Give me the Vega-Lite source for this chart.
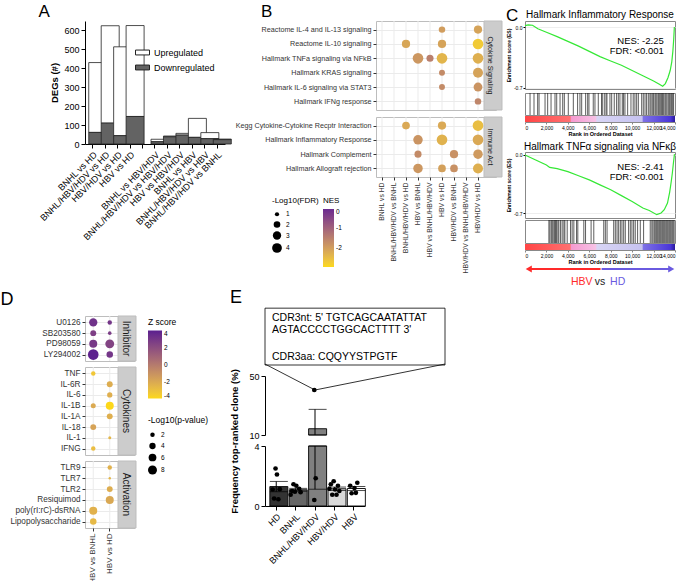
{
  "$schema": "https://vega.github.io/schema/vega-lite/v6.json",
  "background": "white",
  "padding": {"left": 0, "top": 2, "right": 0, "bottom": 0},
  "config": {
    "font": "Liberation Sans",
    "view": {"stroke": null},
    "axis": {"labelColor": "#000", "titleColor": "#000", "domainColor": "#000", "tickColor": "#000", "grid": false},
    "title": {"fontWeight": "normal", "color": "#000"},
    "legend": {"labelColor": "#000", "titleColor": "#000"}
  },
  "datasets": {
    "degs": [
      {"comparison": "BNHL vs HD", "Upregulated": 368, "Downregulated": 61},
      {"comparison": "BNHL/HBV/HDV vs HD", "Upregulated": 513, "Downregulated": 110},
      {"comparison": "HBV/HDV vs HD", "Upregulated": 468, "Downregulated": 44},
      {"comparison": "HBV vs HD", "Upregulated": 479, "Downregulated": 145},
      {"comparison": "BNHL vs HBV/HDV", "Upregulated": 13, "Downregulated": 12},
      {"comparison": "BNHL/HBV/HDV vs HBV/HDV", "Upregulated": 4, "Downregulated": 38},
      {"comparison": "HBV vs HBV/HDV", "Upregulated": 9, "Downregulated": 47},
      {"comparison": "BNHL vs HBV", "Upregulated": 100, "Downregulated": 35},
      {"comparison": "BNHL/HBV/HDV vs HBV", "Upregulated": 32, "Downregulated": 28},
      {"comparison": "BNHL/HBV/HDV vs BNHL", "Upregulated": 3, "Downregulated": 23}
    ],
    "bcols": [
      {"comparison": "BNHL vs HD"}, {"comparison": "BNHL/HBV/HDV vs BNHL"}, {"comparison": "BNHL/HBV/HDV vs HD"},
      {"comparison": "HBV vs BNHL"}, {"comparison": "HBV vs BNHL/HBV/HDV"}, {"comparison": "HBV vs HD"},
      {"comparison": "HBV/HDV vs BNHL"}, {"comparison": "HBV/HDV vs BNHL/HBV/HDV"}, {"comparison": "HBV/HDV vs HD"}
    ],
    "dcols": [{"comp": "HBV vs BNHL"}, {"comp": "HBV vs HD"}],
    "gsea": [
      {"group": "Cytokine Signaling", "pathway": "Reactome IL-4 and IL-13 signaling", "comparison": "HBV vs HD", "fdr": 1.93, "nes": -2.0},
      {"group": "Cytokine Signaling", "pathway": "Reactome IL-4 and IL-13 signaling", "comparison": "HBV/HDV vs HD", "fdr": 2.94, "nes": -2.1},
      {"group": "Cytokine Signaling", "pathway": "Reactome IL-10 signaling", "comparison": "BNHL/HBV/HDV vs HD", "fdr": 2.94, "nes": -2.15},
      {"group": "Cytokine Signaling", "pathway": "Reactome IL-10 signaling", "comparison": "HBV vs HD", "fdr": 2.94, "nes": -2.1},
      {"group": "Cytokine Signaling", "pathway": "Reactome IL-10 signaling", "comparison": "HBV/HDV vs HD", "fdr": 4.7, "nes": -2.75},
      {"group": "Cytokine Signaling", "pathway": "Hallmark TNFa signaling via NFkB", "comparison": "HBV vs BNHL", "fdr": 4.7, "nes": -1.9},
      {"group": "Cytokine Signaling", "pathway": "Hallmark TNFa signaling via NFkB", "comparison": "HBV vs BNHL/HBV/HDV", "fdr": 2.25, "nes": -1.5},
      {"group": "Cytokine Signaling", "pathway": "Hallmark TNFa signaling via NFkB", "comparison": "HBV vs HD", "fdr": 4.7, "nes": -2.4},
      {"group": "Cytokine Signaling", "pathway": "Hallmark TNFa signaling via NFkB", "comparison": "HBV/HDV vs HD", "fdr": 4.7, "nes": -2.3},
      {"group": "Cytokine Signaling", "pathway": "Hallmark KRAS signaling", "comparison": "HBV vs HD", "fdr": 1.67, "nes": -1.7},
      {"group": "Cytokine Signaling", "pathway": "Hallmark KRAS signaling", "comparison": "HBV/HDV vs HD", "fdr": 4.2, "nes": -2.1},
      {"group": "Cytokine Signaling", "pathway": "Hallmark IL-6 signaling via STAT3", "comparison": "HBV vs HD", "fdr": 1.67, "nes": -1.7},
      {"group": "Cytokine Signaling", "pathway": "Hallmark IL-6 signaling via STAT3", "comparison": "HBV/HDV vs HD", "fdr": 3.35, "nes": -1.85},
      {"group": "Cytokine Signaling", "pathway": "Hallmark IFNg response", "comparison": "HBV/HDV vs HD", "fdr": 1.93, "nes": -1.6},
      {"group": "Immune Act", "pathway": "Kegg Cytokine-Cytokine Recptr Interaction", "comparison": "BNHL/HBV/HDV vs HD", "fdr": 2.6, "nes": -2.2},
      {"group": "Immune Act", "pathway": "Kegg Cytokine-Cytokine Recptr Interaction", "comparison": "HBV vs HD", "fdr": 2.94, "nes": -2.2},
      {"group": "Immune Act", "pathway": "Kegg Cytokine-Cytokine Recptr Interaction", "comparison": "HBV/HDV vs HD", "fdr": 4.7, "nes": -2.55},
      {"group": "Immune Act", "pathway": "Hallmark Inflammatory Response", "comparison": "HBV vs BNHL", "fdr": 3.8, "nes": -1.85},
      {"group": "Immune Act", "pathway": "Hallmark Inflammatory Response", "comparison": "HBV vs HD", "fdr": 4.7, "nes": -2.35},
      {"group": "Immune Act", "pathway": "Hallmark Inflammatory Response", "comparison": "HBV/HDV vs HD", "fdr": 4.7, "nes": -2.2},
      {"group": "Immune Act", "pathway": "Hallmark Complement", "comparison": "HBV vs BNHL", "fdr": 2.25, "nes": -1.7},
      {"group": "Immune Act", "pathway": "Hallmark Complement", "comparison": "HBV/HDV vs BNHL", "fdr": 2.94, "nes": -1.8},
      {"group": "Immune Act", "pathway": "Hallmark Complement", "comparison": "HBV/HDV vs HD", "fdr": 3.8, "nes": -1.95},
      {"group": "Immune Act", "pathway": "Hallmark Allograft rejection", "comparison": "HBV vs BNHL", "fdr": 3.8, "nes": -1.9},
      {"group": "Immune Act", "pathway": "Hallmark Allograft rejection", "comparison": "HBV vs HD", "fdr": 2.6, "nes": -2.05},
      {"group": "Immune Act", "pathway": "Hallmark Allograft rejection", "comparison": "HBV/HDV vs BNHL", "fdr": 2.6, "nes": -1.8},
      {"group": "Immune Act", "pathway": "Hallmark Allograft rejection", "comparison": "HBV/HDV vs HD", "fdr": 4.2, "nes": -2.3}
    ],
    "tf": [
      {"cat": "Inhibitor", "item": "U0126", "comp": "HBV vs BNHL", "p": 6.8, "z": 3.2},
      {"cat": "Inhibitor", "item": "U0126", "comp": "HBV vs HD", "p": 2.0, "z": 3.0},
      {"cat": "Inhibitor", "item": "SB203580", "comp": "HBV vs BNHL", "p": 3.5, "z": 2.6},
      {"cat": "Inhibitor", "item": "SB203580", "comp": "HBV vs HD", "p": 1.3, "z": 2.7},
      {"cat": "Inhibitor", "item": "PD98059", "comp": "HBV vs BNHL", "p": 6.4, "z": 2.9},
      {"cat": "Inhibitor", "item": "PD98059", "comp": "HBV vs HD", "p": 7.9, "z": 2.4},
      {"cat": "Inhibitor", "item": "LY294002", "comp": "HBV vs BNHL", "p": 11.3, "z": 3.9},
      {"cat": "Inhibitor", "item": "LY294002", "comp": "HBV vs HD", "p": 4.2, "z": 3.0},
      {"cat": "Cytokines", "item": "TNF", "comp": "HBV vs BNHL", "p": 2.0, "z": -3.3},
      {"cat": "Cytokines", "item": "IL-6R", "comp": "HBV vs HD", "p": 3.5, "z": -2.2},
      {"cat": "Cytokines", "item": "IL-6", "comp": "HBV vs HD", "p": 2.8, "z": -2.3},
      {"cat": "Cytokines", "item": "IL-1B", "comp": "HBV vs BNHL", "p": 2.5, "z": -2.1},
      {"cat": "Cytokines", "item": "IL-1B", "comp": "HBV vs HD", "p": 6.4, "z": -4.0},
      {"cat": "Cytokines", "item": "IL-1A", "comp": "HBV vs HD", "p": 3.5, "z": -2.3},
      {"cat": "Cytokines", "item": "IL-18", "comp": "HBV vs BNHL", "p": 3.5, "z": -1.8},
      {"cat": "Cytokines", "item": "IL-1", "comp": "HBV vs HD", "p": 0.9, "z": -2.6},
      {"cat": "Cytokines", "item": "IFNG", "comp": "HBV vs BNHL", "p": 2.0, "z": -2.9},
      {"cat": "Activation", "item": "TLR9", "comp": "HBV vs HD", "p": 2.0, "z": -2.4},
      {"cat": "Activation", "item": "TLR7", "comp": "HBV vs HD", "p": 0.6, "z": -2.6},
      {"cat": "Activation", "item": "TLR2", "comp": "HBV vs HD", "p": 3.5, "z": -2.2},
      {"cat": "Activation", "item": "Resiquimod", "comp": "HBV vs HD", "p": 6.4, "z": -2.0},
      {"cat": "Activation", "item": "poly(rI:rC)-dsRNA", "comp": "HBV vs BNHL", "p": 6.4, "z": -2.4},
      {"cat": "Activation", "item": "Lipopolysaccharide", "comp": "HBV vs BNHL", "p": 4.2, "z": -2.7}
    ],
    "es1": [
      {"rank": 0, "es": 0.015}, {"rank": 300, "es": 0.025}, {"rank": 700, "es": 0.02}, {"rank": 1200, "es": -0.02},
      {"rank": 2000, "es": -0.06}, {"rank": 3000, "es": -0.11}, {"rank": 4000, "es": -0.165}, {"rank": 5000, "es": -0.22},
      {"rank": 6000, "es": -0.28}, {"rank": 7000, "es": -0.34}, {"rank": 8000, "es": -0.39}, {"rank": 9000, "es": -0.44},
      {"rank": 10000, "es": -0.5}, {"rank": 11000, "es": -0.56}, {"rank": 12000, "es": -0.62}, {"rank": 12500, "es": -0.655},
      {"rank": 12850, "es": -0.68}, {"rank": 13100, "es": -0.65}, {"rank": 13350, "es": -0.58}, {"rank": 13550, "es": -0.5},
      {"rank": 13700, "es": -0.4}, {"rank": 13800, "es": -0.28}, {"rank": 13880, "es": -0.14}, {"rank": 13940, "es": 0.0}
    ],
    "es2": [
      {"rank": 0, "es": 0.0}, {"rank": 1000, "es": -0.06}, {"rank": 2000, "es": -0.12}, {"rank": 2300, "es": -0.15},
      {"rank": 3000, "es": -0.165}, {"rank": 4000, "es": -0.2}, {"rank": 5000, "es": -0.25}, {"rank": 6000, "es": -0.3},
      {"rank": 7000, "es": -0.36}, {"rank": 8000, "es": -0.42}, {"rank": 9000, "es": -0.49}, {"rank": 10000, "es": -0.56},
      {"rank": 11000, "es": -0.64}, {"rank": 11600, "es": -0.67}, {"rank": 12300, "es": -0.72}, {"rank": 12700, "es": -0.7},
      {"rank": 13000, "es": -0.66}, {"rank": 13300, "es": -0.58}, {"rank": 13500, "es": -0.45}, {"rank": 13650, "es": -0.32},
      {"rank": 13750, "es": -0.22}, {"rank": 13850, "es": -0.1}, {"rank": 13950, "es": 0.01}
    ],
    "hits1": [
      {"rank": 470}, {"rank": 840}, {"rank": 1180}, {"rank": 1310}, {"rank": 1870}, {"rank": 2115}, {"rank": 2430}, {"rank": 2800},
      {"rank": 2960}, {"rank": 3270}, {"rank": 3520}, {"rank": 3670}, {"rank": 4040}, {"rank": 4510}, {"rank": 4910}, {"rank": 5130},
      {"rank": 5290}, {"rank": 5660}, {"rank": 5850}, {"rank": 5970}, {"rank": 6370}, {"rank": 6530}, {"rank": 6840}, {"rank": 7150},
      {"rank": 7210}, {"rank": 7400}, {"rank": 7560}, {"rank": 7650}, {"rank": 7930}, {"rank": 8090}, {"rank": 8330}, {"rank": 8550},
      {"rank": 8710}, {"rank": 8860}, {"rank": 9080}, {"rank": 9200}, {"rank": 9330}, {"rank": 9580}, {"rank": 9890}, {"rank": 10100},
      {"rank": 10260}, {"rank": 10420}, {"rank": 10580}, {"rank": 10890}, {"rank": 11040}, {"rank": 11200}, {"rank": 11350}, {"rank": 11510},
      {"rank": 11660}, {"rank": 11760}, {"rank": 11880}, {"rank": 12000}, {"rank": 12130}, {"rank": 12220}, {"rank": 12320}, {"rank": 12440},
      {"rank": 12530}, {"rank": 12630}, {"rank": 12750}, {"rank": 12840}, {"rank": 12940}, {"rank": 13060}, {"rank": 13150}, {"rank": 13250},
      {"rank": 13370}, {"rank": 13470}, {"rank": 13560}, {"rank": 13680}, {"rank": 13780}, {"rank": 13870}
    ],
    "hits2": [
      {"rank": 2230}, {"rank": 2325}, {"rank": 2450}, {"rank": 2540}, {"rank": 2635}, {"rank": 2760}, {"rank": 2850}, {"rank": 2945},
      {"rank": 3070}, {"rank": 3160}, {"rank": 3320}, {"rank": 3470}, {"rank": 3630}, {"rank": 3720}, {"rank": 3940}, {"rank": 4250},
      {"rank": 4400}, {"rank": 4560}, {"rank": 4810}, {"rank": 4930}, {"rank": 5490}, {"rank": 5650}, {"rank": 6170}, {"rank": 6420},
      {"rank": 7350}, {"rank": 7500}, {"rank": 7660}, {"rank": 8280}, {"rank": 8430}, {"rank": 8590}, {"rank": 8740}, {"rank": 8900},
      {"rank": 9050}, {"rank": 9210}, {"rank": 9360}, {"rank": 9670}, {"rank": 9830}, {"rank": 9980}, {"rank": 10140}, {"rank": 10290},
      {"rank": 10510}, {"rank": 10760}, {"rank": 11070}, {"rank": 11690}, {"rank": 11840}, {"rank": 11940}, {"rank": 12060}, {"rank": 12150},
      {"rank": 12250}, {"rank": 12340}, {"rank": 12430}, {"rank": 12530}, {"rank": 12620}, {"rank": 12710}, {"rank": 12810}, {"rank": 12900},
      {"rank": 12990}, {"rank": 13080}, {"rank": 13180}, {"rank": 13270}, {"rank": 13360}, {"rank": 13460}, {"rank": 13550}, {"rank": 13640},
      {"rank": 13740}, {"rank": 13830}, {"rank": 13920}
    ],
    "clone": [
      {"group": "HD", "rep": 4, "v": 2.5}, {"group": "HD", "rep": 5, "v": 2.1}, {"group": "HD", "rep": 2, "v": 1.1},
      {"group": "HD", "rep": 7, "v": 1.12}, {"group": "HD", "rep": 3, "v": 0.5}, {"group": "HD", "rep": 6, "v": 0.45},
      {"group": "BNHL", "rep": 3, "v": 1.45}, {"group": "BNHL", "rep": 5, "v": 1.35}, {"group": "BNHL", "rep": 7, "v": 1.15},
      {"group": "BNHL", "rep": 2, "v": 1.0}, {"group": "BNHL", "rep": 4, "v": 0.95}, {"group": "BNHL", "rep": 8, "v": 0.92},
      {"group": "BNHL", "rep": 1, "v": 0.75},
      {"group": "BNHL/HBV/HDV", "rep": 4, "v": 40.5}, {"group": "BNHL/HBV/HDV", "rep": 5, "v": 1.85}, {"group": "BNHL/HBV/HDV", "rep": 4, "v": 0.4},
      {"group": "HBV/HDV", "rep": 4, "v": 1.65}, {"group": "HBV/HDV", "rep": 2, "v": 1.45}, {"group": "HBV/HDV", "rep": 7, "v": 1.35},
      {"group": "HBV/HDV", "rep": 1, "v": 1.15}, {"group": "HBV/HDV", "rep": 5, "v": 1.1}, {"group": "HBV/HDV", "rep": 8, "v": 1.0},
      {"group": "HBV/HDV", "rep": 3, "v": 0.75}, {"group": "HBV/HDV", "rep": 6, "v": 0.75},
      {"group": "HBV", "rep": 7, "v": 1.55}, {"group": "HBV", "rep": 2, "v": 1.35}, {"group": "HBV", "rep": 5, "v": 1.2},
      {"group": "HBV", "rep": 3, "v": 0.85}, {"group": "HBV", "rep": 6, "v": 0.88}
    ]
  },
  "resolve": {"scale": {"color": "independent", "size": "independent", "shape": "independent"}, "legend": {"color": "independent", "size": "independent", "shape": "independent"}},
  "spacing": 0,
  "vconcat": [
    {
      "spacing": 2,
      "resolve": {"scale": {"color": "independent", "size": "independent", "shape": "independent"}, "legend": {"color": "independent", "size": "independent", "shape": "independent"}},
      "hconcat": [
        {
          "title": {"text": "A", "anchor": "start", "frame": "bounds", "fontSize": 17, "offset": 0},
          "width": 140,
          "height": 123,
          "data": {"name": "degs"},
          "transform": [{"fold": ["Upregulated", "Downregulated"], "as": ["reg", "n"]}],
          "mark": {"type": "bar", "stroke": "#222", "strokeWidth": 0.8},
          "encoding": {
            "x": {
              "field": "comparison", "type": "nominal",
              "scale": {"domain": ["BNHL vs HD", "BNHL/HBV/HDV vs HD", "HBV/HDV vs HD", "HBV vs HD", "gap", "BNHL vs HBV/HDV", "BNHL/HBV/HDV vs HBV/HDV", "HBV vs HBV/HDV", "BNHL vs HBV", "BNHL/HBV/HDV vs HBV", "BNHL/HBV/HDV vs BNHL"], "paddingInner": 0.36, "paddingOuter": 0.3},
              "axis": {"title": null, "labelAngle": -45, "labelFontSize": 9, "labelPadding": 2, "tickSize": 4, "labelLimit": 200, "labelExpr": "datum.value === 'gap' ? '' : datum.label"}
            },
            "y": {
              "field": "n", "type": "quantitative", "stack": "zero",
              "scale": {"domain": [0, 648], "nice": false},
              "axis": {"title": "DEGs (#)", "titleFontWeight": "bold", "titleFontSize": 9.5, "values": [0, 100, 200, 300, 400, 500, 600], "labelFontSize": 9, "tickSize": 4, "titlePadding": 4}
            },
            "color": {
              "field": "reg", "type": "nominal",
              "scale": {"domain": ["Upregulated", "Downregulated"], "range": ["#ffffff", "#636363"]},
              "legend": {"orient": "top-right", "offset": 4, "padding": 6, "title": " ", "titleFontSize": 14, "titlePadding": 0, "symbolType": "M-1,-0.35H1V0.35H-1Z", "symbolSize": 196, "symbolStrokeColor": "#222", "symbolStrokeWidth": 1, "labelFontSize": 9, "rowPadding": 2}
            },
            "order": {"field": "reg", "sort": "ascending"}
          }
        },
        {
          "spacing": 5,
          "resolve": {"scale": {"color": "independent", "size": "independent"}, "legend": {"color": "independent", "size": "independent"}},
          "vconcat": [
            {
              "title": {"text": "B", "anchor": "start", "frame": "bounds", "fontSize": 17, "offset": 0},
              "width": 120,
              "height": 89,
              "view": {"stroke": "#bdbdbd"},
              "layer": [
                {
                  "data": {"values": [{"strip": "Cytokine Signaling"}]},
                  "mark": {"type": "rect", "fill": "#cccccc", "stroke": "#bdbdbd"},
                  "encoding": {"x": {"datum": "~strip", "type": "nominal"}}
                },
                {
                  "data": {"name": "bcols"},
                  "mark": {"type": "rule", "color": "#ebebeb", "strokeWidth": 1},
                  "encoding": {"x": {"field": "comparison", "type": "nominal"}}
                },
                {
                  "data": {"values": [{"strip": "Cytokine Signaling"}]},
                  "mark": {"type": "text", "angle": 90, "fontSize": 7, "color": "#1a1a1a"},
                  "encoding": {"x": {"datum": "~strip", "type": "nominal"}, "text": {"field": "strip"}}
                },
                {
                  "data": {"name": "gsea"},
                  "transform": [{"filter": "datum.group === 'Cytokine Signaling'"}],
                  "mark": {"type": "circle", "opacity": 1},
                  "encoding": {
                    "x": {"field": "comparison", "type": "nominal",
                      "scale": {"type": "band", "domain": ["BNHL vs HD", "BNHL/HBV/HDV vs BNHL", "BNHL/HBV/HDV vs HD", "HBV vs BNHL", "HBV vs BNHL/HBV/HDV", "HBV vs HD", "HBV/HDV vs BNHL", "HBV/HDV vs BNHL/HBV/HDV", "HBV/HDV vs HD", "~strip"], "paddingInner": 0, "paddingOuter": 0},
                      "axis": {"title": null, "labels": false, "ticks": false, "domain": false, "grid": false, "values": ["BNHL vs HD", "BNHL/HBV/HDV vs BNHL", "BNHL/HBV/HDV vs HD", "HBV vs BNHL", "HBV vs BNHL/HBV/HDV", "HBV vs HD", "HBV/HDV vs BNHL", "HBV/HDV vs BNHL/HBV/HDV", "HBV/HDV vs HD"]}},
                    "y": {"field": "pathway", "type": "nominal",
                      "scale": {"type": "point", "padding": 0.6, "domain": ["Reactome IL-4 and IL-13 signaling", "Reactome IL-10 signaling", "Hallmark TNFa signaling via NFkB", "Hallmark KRAS signaling", "Hallmark IL-6 signaling via STAT3", "Hallmark IFNg response"]},
                      "axis": {"title": null, "labelFontSize": 7.2, "labelColor": "#333", "tickColor": "#333", "tickSize": 3, "domain": false, "grid": true, "gridColor": "#ebebeb", "labelLimit": 250, "labelPadding": 2}},
                    "size": {"field": "fdr", "type": "quantitative", "scale": {"domain": [0.3, 4], "range": [0, 95]}, "legend": null},
                    "color": {"field": "nes", "type": "quantitative", "scale": {"domain": [-3, 0], "range": ["#fcd91a", "#6a2a90"], "interpolate": "lab"}, "legend": null}
                  }
                }
              ]
            },
            {
              "width": 120,
              "height": 60,
              "view": {"stroke": "#bdbdbd"},
              "layer": [
                {
                  "data": {"values": [{"strip": "Immune Act"}]},
                  "mark": {"type": "rect", "fill": "#cccccc", "stroke": "#bdbdbd"},
                  "encoding": {"x": {"datum": "~strip", "type": "nominal"}}
                },
                {
                  "data": {"name": "bcols"},
                  "mark": {"type": "rule", "color": "#ebebeb", "strokeWidth": 1},
                  "encoding": {"x": {"field": "comparison", "type": "nominal"}}
                },
                {
                  "data": {"values": [{"strip": "Immune Act"}]},
                  "mark": {"type": "text", "angle": 90, "fontSize": 7, "color": "#1a1a1a"},
                  "encoding": {"x": {"datum": "~strip", "type": "nominal"}, "text": {"field": "strip"}}
                },
                {
                  "data": {"name": "gsea"},
                  "transform": [{"filter": "datum.group === 'Immune Act'"}],
                  "mark": {"type": "circle", "opacity": 1},
                  "encoding": {
                    "x": {"field": "comparison", "type": "nominal",
                      "scale": {"type": "band", "domain": ["BNHL vs HD", "BNHL/HBV/HDV vs BNHL", "BNHL/HBV/HDV vs HD", "HBV vs BNHL", "HBV vs BNHL/HBV/HDV", "HBV vs HD", "HBV/HDV vs BNHL", "HBV/HDV vs BNHL/HBV/HDV", "HBV/HDV vs HD", "~strip"], "paddingInner": 0, "paddingOuter": 0},
                      "axis": {"title": null, "labelAngle": 270, "labelFontSize": 6.8, "labelColor": "#333", "tickColor": "#333", "tickSize": 3, "domain": false, "grid": false, "bandPosition": 0.5, "labelPadding": 2, "labelLimit": 200, "values": ["BNHL vs HD", "BNHL/HBV/HDV vs BNHL", "BNHL/HBV/HDV vs HD", "HBV vs BNHL", "HBV vs BNHL/HBV/HDV", "HBV vs HD", "HBV/HDV vs BNHL", "HBV/HDV vs BNHL/HBV/HDV", "HBV/HDV vs HD"]}},
                    "y": {"field": "pathway", "type": "nominal",
                      "scale": {"type": "point", "padding": 0.6, "domain": ["Kegg Cytokine-Cytokine Recptr Interaction", "Hallmark Inflammatory Response", "Hallmark Complement", "Hallmark Allograft rejection"]},
                      "axis": {"title": null, "labelFontSize": 7.2, "labelColor": "#333", "tickColor": "#333", "tickSize": 3, "domain": false, "grid": true, "gridColor": "#ebebeb", "labelLimit": 250, "labelPadding": 2}},
                    "size": {"field": "fdr", "type": "quantitative", "title": "-Log10(FDR)", "scale": {"domain": [0.3, 4], "range": [0, 95]},
                      "legend": {"orient": "none", "legendX": -104, "legendY": 80, "values": [1, 2, 3, 4], "symbolFillColor": "#000", "symbolStrokeWidth": 0, "titleFontSize": 8, "titleFontWeight": "normal", "labelFontSize": 6.5, "rowPadding": 3, "titlePadding": 6}},
                    "color": {"field": "nes", "type": "quantitative", "title": "NES", "scale": {"domain": [-3, 0], "range": ["#fcd91a", "#6a2a90"], "interpolate": "lab"},
                      "legend": {"orient": "none", "legendX": -53, "legendY": 80, "values": [0, -1, -2], "labelExpr": "replace(datum.label, '\u2212', '-')", "gradientLength": 58, "gradientThickness": 11, "titleFontSize": 8, "titleFontWeight": "normal", "labelFontSize": 6.5, "titlePadding": 4}}
                  }
                }
              ]
            }
          ]
        },
        {
          "spacing": 4,
          "title": {"text": "C", "anchor": "start", "frame": "bounds", "fontSize": 17, "offset": -15},
          "resolve": {"scale": {"color": "independent", "shape": "independent"}, "legend": {"color": "independent", "shape": "independent"}},
          "vconcat": [
            {
              "spacing": 0,
              "vconcat": [
                {
                  "title": {"text": "Hallmark Inflammatory Response", "fontSize": 10, "offset": 1},
                  "width": 150,
                  "height": 68,
                  "view": {"stroke": "#888"},
                  "layer": [
                    {
                      "data": {"name": "es1"},
                      "mark": {"type": "line", "color": "#35e835", "strokeWidth": 1.2},
                      "encoding": {
                        "x": {"field": "rank", "type": "quantitative", "scale": {"domain": [0, 14000], "nice": false}, "axis": null},
                        "y": {"field": "es", "type": "quantitative", "scale": {"domain": [-0.712, 0.069], "nice": false, "zero": false},
                          "axis": {"title": "Enrichment score (ES)", "titleFontSize": 5, "titlePadding": 2, "values": [0, -0.1, -0.2, -0.3, -0.4, -0.5, -0.6, -0.7], "labelExpr": "replace(format(datum.value, '.1f'), '\u2212', '-')", "labelOverlap": false, "labelFontSize": 5, "tickSize": 2, "labelPadding": 1, "domain": false, "grid": true, "gridColor": "#eeeeee"}}
                      }
                    },
                    {
                      "data": {"values": [{"t": "NES: -2.25", "rank": 12950, "es": -0.157}, {"t": "FDR: <0.001", "rank": 12950, "es": -0.28}]},
                      "mark": {"type": "text", "align": "right", "fontSize": 9.5, "color": "#000"},
                      "encoding": {"x": {"field": "rank", "type": "quantitative"}, "y": {"field": "es", "type": "quantitative"}, "text": {"field": "t"}}
                    }
                  ]
                },
                {
                  "width": 150,
                  "height": 22,
                  "view": {"stroke": "#888"},
                  "data": {"name": "hits1"},
                  "mark": {"type": "rule", "color": "#111", "strokeWidth": 0.8, "opacity": 0.85},
                  "encoding": {"x": {"field": "rank", "type": "quantitative", "scale": {"domain": [0, 14000], "nice": false}, "axis": null}}
                },
                {
                  "width": 150,
                  "height": 6,
                  "data": {"values": [{"start": 0, "end": 14000}]},
                  "mark": {"type": "rect", "color": {"gradient": "linear", "stops": [{"offset": 0, "color": "#ff4545"}, {"offset": 0.3, "color": "#ff7070"}, {"offset": 0.31, "color": "#f59ad0"}, {"offset": 0.47, "color": "#f7c2e6"}, {"offset": 0.48, "color": "#d8d5f5"}, {"offset": 0.78, "color": "#c6c2f0"}, {"offset": 0.79, "color": "#7d70e6"}, {"offset": 0.97, "color": "#4a36d8"}, {"offset": 1, "color": "#2a1a99"}]}},
                  "encoding": {
                    "x": {"field": "start", "type": "quantitative", "scale": {"domain": [0, 14000], "nice": false},
                      "axis": {"title": "Rank in Ordered Dataset", "titleFontSize": 5.5, "titlePadding": 1, "values": [0, 2000, 4000, 6000, 8000, 10000, 12000, 14000], "labelExpr": "datum.value == 0 ? '0' : (datum.value / 1000) + ',000'", "labelOverlap": false, "labelFontSize": 5, "tickSize": 2, "labelPadding": 1, "domainColor": "#888", "tickColor": "#888"}},
                    "x2": {"field": "end"}
                  }
                }
              ]
            },
            {
              "spacing": 0,
              "vconcat": [
                {
                  "spacing": 0,
                  "vconcat": [
                    {
                      "title": {"text": "Hallmark TNFα signaling via NFκβ", "fontSize": 10, "offset": 0},
                      "width": 150,
                      "height": 66,
                      "view": {"stroke": "#888"},
                      "layer": [
                        {
                          "data": {"name": "es2"},
                          "mark": {"type": "line", "color": "#35e835", "strokeWidth": 1.2},
                          "encoding": {
                            "x": {"field": "rank", "type": "quantitative", "scale": {"domain": [0, 14000], "nice": false}, "axis": null},
                            "y": {"field": "es", "type": "quantitative", "scale": {"domain": [-0.76, 0.036], "nice": false, "zero": false},
                              "axis": {"title": "Enrichment score (ES)", "titleFontSize": 5, "titlePadding": 2, "values": [0, -0.1, -0.2, -0.3, -0.4, -0.5, -0.6, -0.7], "labelExpr": "replace(format(datum.value, '.1f'), '\u2212', '-')", "labelOverlap": false, "labelFontSize": 5, "tickSize": 2, "labelPadding": 1, "domain": false, "grid": true, "gridColor": "#eeeeee"}}
                          }
                        },
                        {
                          "data": {"values": [{"t": "NES: -2.41", "rank": 12950, "es": -0.141}, {"t": "FDR: <0.001", "rank": 12950, "es": -0.27}]},
                          "mark": {"type": "text", "align": "right", "fontSize": 9.5, "color": "#000"},
                          "encoding": {"x": {"field": "rank", "type": "quantitative"}, "y": {"field": "es", "type": "quantitative"}, "text": {"field": "t"}}
                        }
                      ]
                    },
                    {
                      "width": 150,
                      "height": 23,
                      "view": {"stroke": "#888"},
                      "data": {"name": "hits2"},
                      "mark": {"type": "rule", "color": "#111", "strokeWidth": 0.8, "opacity": 0.85},
                      "encoding": {"x": {"field": "rank", "type": "quantitative", "scale": {"domain": [0, 14000], "nice": false}, "axis": null}}
                    },
                    {
                      "width": 150,
                      "height": 6,
                      "data": {"values": [{"start": 0, "end": 14000}]},
                      "mark": {"type": "rect", "color": {"gradient": "linear", "stops": [{"offset": 0, "color": "#ff4545"}, {"offset": 0.3, "color": "#ff7070"}, {"offset": 0.31, "color": "#f59ad0"}, {"offset": 0.47, "color": "#f7c2e6"}, {"offset": 0.48, "color": "#d8d5f5"}, {"offset": 0.78, "color": "#c6c2f0"}, {"offset": 0.79, "color": "#7d70e6"}, {"offset": 0.97, "color": "#4a36d8"}, {"offset": 1, "color": "#2a1a99"}]}},
                      "encoding": {
                        "x": {"field": "start", "type": "quantitative", "scale": {"domain": [0, 14000], "nice": false},
                          "axis": {"title": "Rank in Ordered Dataset", "titleFontSize": 5.5, "titlePadding": 1, "values": [0, 2000, 4000, 6000, 8000, 10000, 12000, 14000], "labelExpr": "datum.value == 0 ? '0' : (datum.value / 1000) + ',000'", "labelOverlap": false, "labelFontSize": 5, "tickSize": 2, "labelPadding": 1, "domainColor": "#888", "tickColor": "#888"}},
                        "x2": {"field": "end"}
                      }
                    }
                  ]
                },
                {
                  "width": 150,
                  "height": 20,
                  "layer": [
                    {
                      "data": {"values": [{"side": "HBV", "from": 7050, "to": 350}, {"side": "HD", "from": 7150, "to": 13650}]},
                      "mark": {"type": "rule", "strokeWidth": 2},
                      "encoding": {
                        "x": {"field": "from", "type": "quantitative", "scale": {"domain": [0, 14000], "nice": false}, "axis": null},
                        "x2": {"field": "to"},
                        "y": {"datum": 0.9, "type": "quantitative", "scale": {"domain": [0, 1], "nice": false}, "axis": null},
                        "color": {"field": "side", "type": "nominal", "scale": {"domain": ["HBV", "vs", "HD"], "range": ["#ff2a2a", "#222222", "#6a5ae0"]}, "legend": null}
                      }
                    },
                    {
                      "data": {"values": [{"side": "HBV", "from": 7050, "to": 350}, {"side": "HD", "from": 7150, "to": 13650}]},
                      "mark": {"type": "point", "filled": true, "size": 50, "opacity": 1},
                      "encoding": {
                        "x": {"field": "to", "type": "quantitative"},
                        "y": {"datum": 0.9, "type": "quantitative"},
                        "shape": {"field": "side", "type": "nominal", "scale": {"domain": ["HBV", "HD"], "range": ["triangle-left", "triangle-right"]}, "legend": null},
                        "color": {"field": "side", "type": "nominal", "legend": null}
                      }
                    },
                    {
                      "data": {"values": [{"side": "HBV", "label": "HBV", "at": 5300}, {"side": "vs", "label": "vs", "at": 7000}, {"side": "HD", "label": "HD", "at": 8650}]},
                      "mark": {"type": "text", "fontSize": 10.5},
                      "encoding": {
                        "x": {"field": "at", "type": "quantitative"},
                        "y": {"datum": 0.25, "type": "quantitative"},
                        "text": {"field": "label"},
                        "color": {"field": "side", "type": "nominal", "legend": null}
                      }
                    }
                  ]
                }
              ]
            }
          ]
        }
      ]
    },
    {
      "spacing": 20,
      "resolve": {"scale": {"color": "independent", "size": "independent"}, "legend": {"color": "independent", "size": "independent"}},
      "hconcat": [
        {
          "spacing": 4,
          "title": {"text": "D", "anchor": "start", "frame": "bounds", "fontSize": 18, "offset": 6},
          "vconcat": [
            {
              "width": 49.5,
              "height": 45,
              "view": {"stroke": "#bdbdbd"},
              "layer": [
                {
                  "data": {"values": [{"strip": "Inhibitor"}]},
                  "mark": {"type": "rect", "fill": "#cccccc", "stroke": "#bdbdbd"},
                  "encoding": {"x": {"datum": "~strip", "type": "nominal"}}
                },
                {
                  "data": {"name": "dcols"},
                  "mark": {"type": "rule", "color": "#ebebeb", "strokeWidth": 1},
                  "encoding": {"x": {"field": "comp", "type": "nominal"}}
                },
                {
                  "data": {"values": [{"strip": "Inhibitor"}]},
                  "mark": {"type": "text", "angle": 90, "fontSize": 10, "color": "#1a1a1a"},
                  "encoding": {"x": {"datum": "~strip", "type": "nominal"}, "text": {"field": "strip"}}
                },
                {
                  "data": {"name": "tf"},
                  "transform": [{"filter": "datum.cat === 'Inhibitor'"}],
                  "mark": {"type": "circle", "opacity": 1},
                  "encoding": {
                    "x": {"field": "comp", "type": "nominal", "scale": {"type": "band", "domain": ["HBV vs BNHL", "HBV vs HD", "~strip"], "paddingInner": 0, "paddingOuter": 0},
                      "axis": {"title": null, "labels": false, "ticks": false, "domain": false, "grid": false, "values": ["HBV vs BNHL", "HBV vs HD"]}},
                    "y": {"field": "item", "type": "nominal", "scale": {"type": "point", "padding": 0.6, "domain": ["U0126", "SB203580", "PD98059", "LY294002"]},
                      "axis": {"title": null, "minExtent": 84, "labelFontSize": 8.2, "labelColor": "#333", "tickColor": "#333", "tickSize": 3, "domain": false, "grid": true, "gridColor": "#ebebeb", "labelPadding": 2}},
                    "size": {"field": "p", "type": "quantitative", "title": "-Log10(p-value)", "scale": {"domain": [0, 8], "range": [0, 80]},
                      "legend": {"orient": "none", "legendX": 63, "legendY": 100, "values": [2, 4, 6, 8], "symbolFillColor": "#000", "symbolStrokeWidth": 0, "titleFontSize": 8.5, "titleFontWeight": "normal", "labelFontSize": 6.5, "rowPadding": 4, "titlePadding": 7}},
                    "color": {"field": "z", "type": "quantitative", "title": "Z score", "scale": {"domain": [-4, 4], "range": ["#fdd81a", "#5a1f8f"], "interpolate": "lab"},
                      "legend": {"orient": "none", "legendX": 63, "legendY": 2, "values": [4, 2, 0, -2, -4], "labelExpr": "replace(datum.label, '\u2212', '-')", "gradientLength": 68, "gradientThickness": 14, "titleFontSize": 8.5, "titleFontWeight": "normal", "labelFontSize": 6.5, "titlePadding": 4}}
                  }
                }
              ]
            },
            {
              "width": 49.5,
              "height": 88,
              "view": {"stroke": "#bdbdbd"},
              "layer": [
                {
                  "data": {"values": [{"strip": "Cytokines"}]},
                  "mark": {"type": "rect", "fill": "#cccccc", "stroke": "#bdbdbd"},
                  "encoding": {"x": {"datum": "~strip", "type": "nominal"}}
                },
                {
                  "data": {"name": "dcols"},
                  "mark": {"type": "rule", "color": "#ebebeb", "strokeWidth": 1},
                  "encoding": {"x": {"field": "comp", "type": "nominal"}}
                },
                {
                  "data": {"values": [{"strip": "Cytokines"}]},
                  "mark": {"type": "text", "angle": 90, "fontSize": 10, "color": "#1a1a1a"},
                  "encoding": {"x": {"datum": "~strip", "type": "nominal"}, "text": {"field": "strip"}}
                },
                {
                  "data": {"name": "tf"},
                  "transform": [{"filter": "datum.cat === 'Cytokines'"}],
                  "mark": {"type": "circle", "opacity": 1},
                  "encoding": {
                    "x": {"field": "comp", "type": "nominal", "scale": {"type": "band", "domain": ["HBV vs BNHL", "HBV vs HD", "~strip"], "paddingInner": 0, "paddingOuter": 0},
                      "axis": {"title": null, "labels": false, "ticks": false, "domain": false, "grid": false, "values": ["HBV vs BNHL", "HBV vs HD"]}},
                    "y": {"field": "item", "type": "nominal", "scale": {"type": "point", "padding": 0.6, "domain": ["TNF", "IL-6R", "IL-6", "IL-1B", "IL-1A", "IL-18", "IL-1", "IFNG"]},
                      "axis": {"title": null, "minExtent": 84, "labelFontSize": 8.2, "labelColor": "#333", "tickColor": "#333", "tickSize": 3, "domain": false, "grid": true, "gridColor": "#ebebeb", "labelPadding": 2}},
                    "size": {"field": "p", "type": "quantitative", "title": "-Log10(p-value)", "scale": {"domain": [0, 8], "range": [0, 80]},
                      "legend": {"orient": "none", "legendX": 63, "legendY": 100, "values": [2, 4, 6, 8], "symbolFillColor": "#000", "symbolStrokeWidth": 0, "titleFontSize": 8.5, "titleFontWeight": "normal", "labelFontSize": 6.5, "rowPadding": 4, "titlePadding": 7}},
                    "color": {"field": "z", "type": "quantitative", "title": "Z score", "scale": {"domain": [-4, 4], "range": ["#fdd81a", "#5a1f8f"], "interpolate": "lab"},
                      "legend": {"orient": "none", "legendX": 63, "legendY": 2, "values": [4, 2, 0, -2, -4], "labelExpr": "replace(datum.label, '\u2212', '-')", "gradientLength": 68, "gradientThickness": 14, "titleFontSize": 8.5, "titleFontWeight": "normal", "labelFontSize": 6.5, "titlePadding": 4}}
                  }
                }
              ]
            },
            {
              "width": 49.5,
              "height": 67,
              "view": {"stroke": "#bdbdbd"},
              "layer": [
                {
                  "data": {"values": [{"strip": "Activation"}]},
                  "mark": {"type": "rect", "fill": "#cccccc", "stroke": "#bdbdbd"},
                  "encoding": {"x": {"datum": "~strip", "type": "nominal"}}
                },
                {
                  "data": {"name": "dcols"},
                  "mark": {"type": "rule", "color": "#ebebeb", "strokeWidth": 1},
                  "encoding": {"x": {"field": "comp", "type": "nominal"}}
                },
                {
                  "data": {"values": [{"strip": "Activation"}]},
                  "mark": {"type": "text", "angle": 90, "fontSize": 10, "color": "#1a1a1a"},
                  "encoding": {"x": {"datum": "~strip", "type": "nominal"}, "text": {"field": "strip"}}
                },
                {
                  "data": {"name": "tf"},
                  "transform": [{"filter": "datum.cat === 'Activation'"}],
                  "mark": {"type": "circle", "opacity": 1},
                  "encoding": {
                    "x": {"field": "comp", "type": "nominal", "scale": {"type": "band", "domain": ["HBV vs BNHL", "HBV vs HD", "~strip"], "paddingInner": 0, "paddingOuter": 0},
                      "axis": {"title": null, "labelAngle": 270, "labelFontSize": 8, "labelColor": "#333", "tickColor": "#333", "tickSize": 3, "domain": false, "grid": false, "bandPosition": 0.5, "labelPadding": 2, "values": ["HBV vs BNHL", "HBV vs HD"]}},
                    "y": {"field": "item", "type": "nominal", "scale": {"type": "point", "padding": 0.6, "domain": ["TLR9", "TLR7", "TLR2", "Resiquimod", "poly(rI:rC)-dsRNA", "Lipopolysaccharide"]},
                      "axis": {"title": null, "minExtent": 84, "labelFontSize": 8.2, "labelColor": "#333", "tickColor": "#333", "tickSize": 3, "domain": false, "grid": true, "gridColor": "#ebebeb", "labelPadding": 2}},
                    "size": {"field": "p", "type": "quantitative", "title": "-Log10(p-value)", "scale": {"domain": [0, 8], "range": [0, 80]},
                      "legend": {"orient": "none", "legendX": 63, "legendY": 100, "values": [2, 4, 6, 8], "symbolFillColor": "#000", "symbolStrokeWidth": 0, "titleFontSize": 8.5, "titleFontWeight": "normal", "labelFontSize": 6.5, "rowPadding": 4, "titlePadding": 7}},
                    "color": {"field": "z", "type": "quantitative", "title": "Z score", "scale": {"domain": [-4, 4], "range": ["#fdd81a", "#5a1f8f"], "interpolate": "lab"},
                      "legend": {"orient": "none", "legendX": 63, "legendY": 2, "values": [4, 2, 0, -2, -4], "labelExpr": "replace(datum.label, '\u2212', '-')", "gradientLength": 68, "gradientThickness": 14, "titleFontSize": 8.5, "titleFontWeight": "normal", "labelFontSize": 6.5, "titlePadding": 4}}
                  }
                }
              ]
            }
          ]
        },
        {
          "spacing": 11,
          "bounds": "flush",
          "title": {"text": "E", "anchor": "start", "frame": "bounds", "fontSize": 18, "offset": 1},
          "resolve": {"scale": {"color": "independent"}, "legend": {"color": "independent"}},
          "vconcat": [
            {
              "width": 180,
              "height": 49,
              "layer": [
                {
                  "data": {"values": [{"x": 0, "x2": 1, "y": 0, "y2": 1.16}]},
                  "mark": {"type": "rect", "fill": "#ffffff", "stroke": "#000", "strokeWidth": 0.8},
                  "encoding": {
                    "x": {"field": "x", "type": "quantitative", "scale": {"domain": [0, 1], "nice": false}, "axis": null},
                    "x2": {"field": "x2"},
                    "y": {"field": "y", "type": "quantitative", "scale": {"domain": [0, 1], "nice": false}, "axis": null},
                    "y2": {"field": "y2"}
                  }
                },
                {
                  "data": {"values": [{"x": 0.039, "y": 0.96, "t": "CDR3nt: 5' TGTCAGCAATATTAT"}, {"x": 0.039, "y": 0.714, "t": "AGTACCCCTGGCACTTTT 3'"}, {"x": 0.039, "y": 0.163, "t": "CDR3aa: CQQYYSTPGTF"}]},
                  "mark": {"type": "text", "align": "left", "baseline": "middle", "fontSize": 10.5, "color": "#000"},
                  "encoding": {
                    "x": {"field": "x", "type": "quantitative"},
                    "y": {"field": "y", "type": "quantitative"},
                    "text": {"field": "t"}
                  }
                }
              ]
            },
            {
              "width": 100,
              "height": 59,
              "resolve": {"scale": {"x": "independent", "y": "independent"}},
              "layer": [
                {
                  "data": {"name": "clone"},
                  "encoding": {
                    "x": {"field": "group", "type": "nominal", "scale": {"domain": ["HD", "BNHL", "BNHL/HBV/HDV", "HBV/HDV", "HBV"], "paddingInner": 0.34, "paddingOuter": 0.25}, "axis": null}
                  },
                  "layer": [
                    {
                      "transform": [{"aggregate": [{"op": "mean", "field": "v", "as": "m"}], "groupby": ["group"]}, {"filter": "datum.m >= 10"}],
                      "mark": {"type": "bar", "stroke": "#000", "strokeWidth": 0.9},
                      "encoding": {
                        "y": {"field": "m", "type": "quantitative", "title": null, "scale": {"domain": [10, 50], "nice": false, "zero": false, "clamp": true},
                          "axis": {"title": null, "values": [10, 20, 30, 40, 50], "labelFontSize": 9, "tickSize": 4}},
                        "color": {"field": "group", "type": "nominal", "scale": {"domain": ["HD", "BNHL", "BNHL/HBV/HDV", "HBV/HDV", "HBV"], "range": ["#333333", "#666666", "#808080", "#d9d9d9", "#ffffff"]}, "legend": null}
                      }
                    },
                    {
                      "transform": [{"filter": "datum.group === 'BNHL/HBV/HDV'"}],
                      "mark": {"type": "errorbar", "extent": "stderr", "ticks": true, "color": "#000"},
                      "encoding": {"y": {"field": "v", "type": "quantitative", "title": null}}
                    },
                    {
                      "transform": [{"filter": "datum.v >= 10"}],
                      "mark": {"type": "circle", "color": "#000", "size": 22, "opacity": 1},
                      "encoding": {
                        "xOffset": {"field": "rep", "type": "nominal", "scale": {"type": "point", "domain": [1, 2, 3, 4, 5, 6, 7, 8], "padding": 1.5}},
                        "y": {"field": "v", "type": "quantitative", "title": null}
                      }
                    }
                  ]
                },
                {
                  "data": {"values": [{"o": 1, "x": 0, "y": 58.1}, {"o": 2, "x": 0.5, "y": 40.5}, {"o": 3, "x": 1.8, "y": 58.1}]},
                  "mark": {"type": "line", "color": "#000", "strokeWidth": 0.8},
                  "encoding": {
                    "x": {"field": "x", "type": "quantitative", "scale": {"domain": [0, 1], "nice": false, "zero": false}, "axis": null},
                    "y": {"field": "y", "type": "quantitative", "scale": {"domain": [10, 50], "nice": false, "zero": false}, "axis": null},
                    "order": {"field": "o"}
                  }
                }
              ]
            },
            {
              "width": 100,
              "height": 60,
              "data": {"name": "clone"},
              "encoding": {
                "x": {"field": "group", "type": "nominal", "scale": {"domain": ["HD", "BNHL", "BNHL/HBV/HDV", "HBV/HDV", "HBV"], "paddingInner": 0.34, "paddingOuter": 0.25},
                  "axis": {"title": null, "labelAngle": -45, "labelFontSize": 9, "tickSize": 4, "labelPadding": 2}}
              },
              "layer": [
                {
                  "mark": {"type": "bar", "stroke": "#000", "strokeWidth": 0.9},
                  "encoding": {
                    "y": {"field": "v", "type": "quantitative", "aggregate": "mean", "title": "Frequency top-ranked clone (%)", "scale": {"domain": [0, 4], "nice": false, "clamp": true},
                      "axis": {"title": "Frequency top-ranked clone (%)", "titleFontWeight": "bold", "titleFontSize": 9.5, "titleY": -5, "values": [0, 2, 4], "labelFontSize": 9, "tickSize": 4, "titlePadding": 14}},
                    "color": {"field": "group", "type": "nominal", "scale": {"domain": ["HD", "BNHL", "BNHL/HBV/HDV", "HBV/HDV", "HBV"], "range": ["#333333", "#666666", "#808080", "#d9d9d9", "#ffffff"]}, "legend": null}
                  }
                },
                {
                  "mark": {"type": "errorbar", "extent": "stderr", "ticks": true, "color": "#000"},
                  "encoding": {"y": {"field": "v", "type": "quantitative", "title": "Frequency top-ranked clone (%)"}}
                },
                {
                  "transform": [{"filter": "datum.v <= 4"}],
                  "mark": {"type": "circle", "color": "#000", "size": 22, "opacity": 1},
                  "encoding": {
                    "xOffset": {"field": "rep", "type": "nominal", "scale": {"type": "point", "domain": [1, 2, 3, 4, 5, 6, 7, 8], "padding": 1.5}},
                    "y": {"field": "v", "type": "quantitative", "title": "Frequency top-ranked clone (%)"}
                  }
                }
              ]
            }
          ]
        }
      ]
    }
  ]
}
